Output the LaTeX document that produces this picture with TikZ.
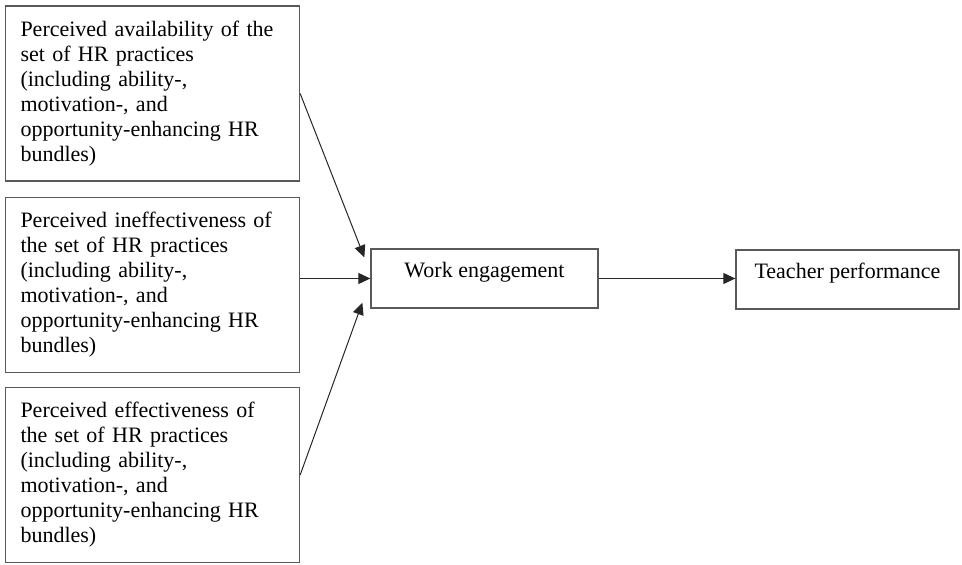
\documentclass[tikz,border=0pt]{standalone}
\usepackage{fontspec}
\setmainfont{Liberation Serif}
\usetikzlibrary{positioning, arrows.meta}

\begin{document}
\begin{tikzpicture}[x=1pt, y=-1pt,
    every node/.style={font=\fontsize{22}{25}\selectfont},
    hrbox/.style={draw=black!65, line width=1.3pt, text width=264pt, inner xsep=15pt, minimum height=175pt, align=left},
    outbox/.style={draw=black!65, line width=1.3pt, minimum height=59pt, text height=15pt, text depth=17pt},
    link/.style={draw=black!85, line width=1pt, -{Triangle[length=12pt, width=11pt]}}]
    \useasboundingbox (0,0) rectangle (962,565);
    % left column
    \node[hrbox] (avail) at (152.5,93.5) {Perceived availability of the\\set of HR practices\\(including ability-,\\motivation-, and\\opportunity-enhancing HR\\bundles)};
    \node[hrbox] (ineff) at (152.5,285) {Perceived ineffectiveness of\\the set of HR practices\\(including ability-,\\motivation-, and\\opportunity-enhancing HR\\bundles)};
    \node[hrbox] (eff) at (152.5,475) {Perceived effectiveness of\\the set of HR practices\\(including ability-,\\motivation-, and\\opportunity-enhancing HR\\bundles)};
    % outcomes
    \node[outbox, minimum width=227pt] (work) at (484.5,278.5) {Work engagement};
    \node[outbox, minimum width=223pt] (perf) at (847.5,279.5) {Teacher performance};
    \coordinate (workT) at ([xshift=-6pt, yshift=-9pt]work.north west);
    \coordinate (workB) at ([xshift=-8pt, yshift=6pt]work.south west);
    % arrows
    \draw[link] (avail.east) -- (workT);
    \draw[link] (ineff.east |- work.west) -- (work.west);
    \draw[link] (eff.east) -- (workB);
    \draw[link] (work.east) -- (perf.west |- work.east);
\end{tikzpicture}
\end{document}
